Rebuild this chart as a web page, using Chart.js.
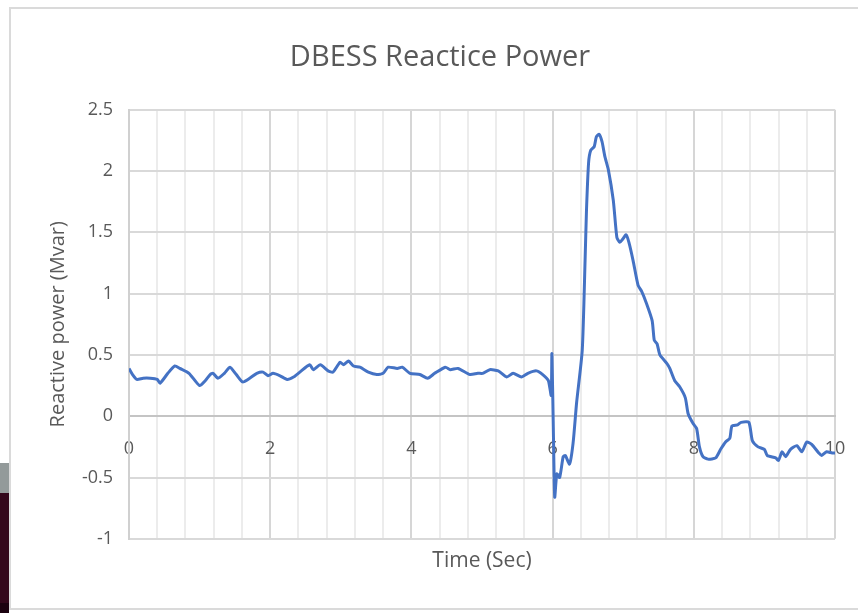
<!DOCTYPE html>
<html>
<head>
<meta charset="utf-8">
<script src="https://cdn.jsdelivr.net/npm/chart.js@4.4.1/dist/chart.umd.min.js"></script>
<style>
    html, body { margin: 0; padding: 0; background: #ffffff; }
    #wrap { position: relative; width: 858px; height: 613px; overflow: hidden; }
    #frame { position: absolute; left: 9px; top: 7px; width: 900px; height: 603px; border: 2px solid #dadada; box-sizing: border-box; }
    #strip1 { position: absolute; left: 0; top: 463px; width: 9px; height: 30px; background: #939a9a; }
    #strip2 { position: absolute; left: 0; top: 493px; width: 9px; height: 110px; background: #33071b; }
    #strip3 { position: absolute; left: 0; top: 603px; width: 9px; height: 10px; background: #1c0210; }
    canvas { position: absolute; left: 0; top: 0; }
</style>
</head>
<body>
<div id="wrap">
    <div id="frame"></div>
    <div id="strip1"></div>
    <div id="strip2"></div>
    <div id="strip3"></div>
    <canvas id="grafico" width="858" height="613"></canvas>
</div>
<script>
// Tempo (s) e potência reativa (Mvar)
const timeSec = [
    0, 0.05, 0.11, 0.2, 0.3, 0.4, 0.44, 0.55, 0.65, 0.72, 0.85, 1.0, 1.08, 1.15, 1.19, 1.26, 1.35, 1.43,
    1.52, 1.61, 1.71, 1.81, 1.90, 1.97, 2.04, 2.14, 2.24, 2.33, 2.42, 2.56, 2.61, 2.71, 2.82, 2.89, 2.99,
    3.04, 3.11, 3.18, 3.27, 3.39, 3.51, 3.60, 3.67, 3.80, 3.87, 3.98, 4.12, 4.23, 4.33, 4.48, 4.55, 4.66,
    4.83, 4.94, 5.01, 5.11, 5.23, 5.35, 5.44, 5.56, 5.65, 5.77, 5.86, 5.94, 5.98, 5.99, 6.01, 6.03, 6.06,
    6.10, 6.15, 6.18, 6.24, 6.29, 6.34, 6.42, 6.46, 6.48, 6.51, 6.54, 6.59, 6.62, 6.66, 6.70, 6.74, 6.79,
    6.86, 6.91, 6.95, 7.00, 7.04, 7.08, 7.14, 7.21, 7.26, 7.33, 7.41, 7.44, 7.48, 7.52, 7.62, 7.66, 7.73,
    7.80, 7.88, 7.92, 7.99, 8.04, 8.08, 8.13, 8.20, 8.31, 8.38, 8.45, 8.51, 8.54, 8.62, 8.67, 8.78, 8.83,
    8.91, 9.00, 9.04, 9.16, 9.20, 9.25, 9.30, 9.37, 9.46, 9.53, 9.60, 9.67, 9.77, 9.81, 9.88, 9.96, 10.0
];
const powerMvar = [
    0.39, 0.34, 0.30, 0.31, 0.31, 0.30, 0.27, 0.35, 0.41, 0.39, 0.35, 0.25, 0.29, 0.34, 0.35, 0.31, 0.35, 0.40,
    0.34, 0.28, 0.31, 0.35, 0.36, 0.33, 0.35, 0.33, 0.30, 0.32, 0.36, 0.42, 0.38, 0.42, 0.37, 0.36, 0.44,
    0.42, 0.45, 0.41, 0.40, 0.36, 0.34, 0.35, 0.40, 0.39, 0.40, 0.35, 0.34, 0.31, 0.35, 0.40, 0.38, 0.39,
    0.34, 0.35, 0.35, 0.38, 0.37, 0.32, 0.35, 0.32, 0.35, 0.37, 0.34, 0.29, 0.17, 0.51, -0.09, -0.66, -0.47,
    -0.50, -0.33, -0.32, -0.39, -0.22, 0.11, 0.54, 1.27, 1.68, 2.07, 2.17, 2.20, 2.28, 2.30, 2.24, 2.12, 2.01,
    1.76, 1.46, 1.42, 1.45, 1.48, 1.42, 1.27, 1.07, 1.02, 0.92, 0.78, 0.62, 0.59, 0.50, 0.43, 0.39, 0.29,
    0.24, 0.15, 0.02, -0.06, -0.10, -0.25, -0.33, -0.35, -0.34, -0.27, -0.21, -0.18, -0.08, -0.07, -0.05, -0.05, -0.20,
    -0.25, -0.27, -0.32, -0.34, -0.36, -0.29, -0.33, -0.27, -0.24, -0.29, -0.21, -0.23, -0.30, -0.32, -0.29, -0.30, -0.30
];
const xMin = 0, xMax = 10, xStep = 0.4, xLabelEvery = 2;
const yMin = -1, yMax = 2.5, yStep = 0.5;

const corTexto = '#595959';
const fonte = 'Open Sans';

function ehRotulo(v) {
    const q = v / xLabelEvery;
    return Math.abs(q - Math.round(q)) < 1e-6;
}

// o padding dos rótulos do eixo x entra na margem lateral; zera isso
function semMargemLateral(s) {
    s.paddingLeft = 0;
    s.paddingRight = 0;
}

const pontos = timeSec.map((t, i) => ({ x: t, y: powerMvar[i] }));

new Chart(document.getElementById('grafico'), {
    type: 'scatter',
    data: {
        datasets: [{
            label: 'Reactive power',
            data: pontos,
            showLine: true,
            borderColor: '#4472c4',
            borderWidth: 3,
            pointRadius: 0,
            tension: 0.2,
            xAxisID: 'x',
            yAxisID: 'y'
        }]
    },
    options: {
        responsive: false,
        animation: false,
        layout: { padding: { left: 45, right: 23, top: 0, bottom: 36 } },
        plugins: {
            legend: { display: false },
            tooltip: { enabled: false },
            title: {
                display: true,
                text: 'DBESS Reactice Power',
                color: corTexto,
                font: { family: fonte, size: 29, weight: 'normal' },
                padding: { top: 40, bottom: 35 }
            }
        },
        scales: {
            x: {
                type: 'linear',
                min: xMin, max: xMax,
                position: { y: 0 },
                afterFit: semMargemLateral,
                ticks: {
                    stepSize: xStep,
                    autoSkip: false,
                    maxRotation: 0,
                    padding: 22,
                    color: corTexto,
                    font: { family: fonte, size: 18 },
                    callback: v => ehRotulo(v) ? String(Math.round(v)) : ''
                },
                grid: {
                    drawTicks: false,
                    color: c => ehRotulo(c.tick.value) ? '#d6d6d6' : '#ececec',
                    lineWidth: 2
                },
                border: { color: '#c4c4c4', width: 2 }
            },
            x2: {
                type: 'linear',
                min: xMin, max: xMax,
                position: 'bottom',
                afterFit: semMargemLateral,
                ticks: { display: false },
                grid: { display: false, drawTicks: false },
                border: { display: false },
                title: {
                    display: true,
                    text: 'Time (Sec)',
                    color: corTexto,
                    font: { family: fonte, size: 21 },
                    padding: { top: 10, bottom: 3 }
                }
            },
            y: {
                type: 'linear',
                min: yMin, max: yMax,
                position: 'left',
                afterFit: s => { s.width = 84; },
                ticks: {
                    stepSize: yStep,
                    padding: 16,
                    color: corTexto,
                    font: { family: fonte, size: 18 },
                    callback: v => String(v)
                },
                grid: { drawTicks: false, color: '#d9d9d9', lineWidth: 2 },
                border: { color: '#d0d0d0', width: 2 },
                title: {
                    display: true,
                    text: 'Reactive power (Mvar)',
                    color: corTexto,
                    font: { family: fonte, size: 20 },
                    padding: { top: 1, bottom: 4 }
                }
            }
        }
    }
});
</script>
</body>
</html>
